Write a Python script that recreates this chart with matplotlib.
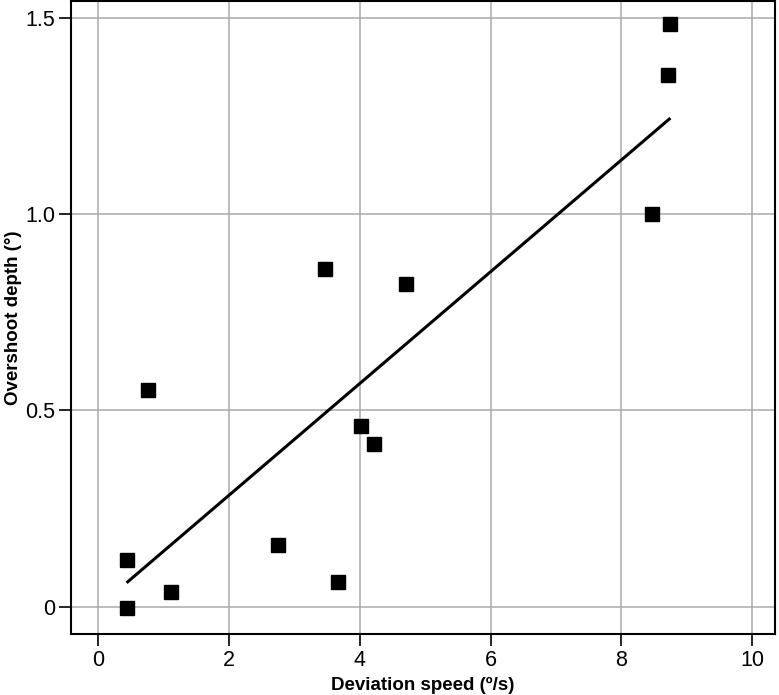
import numpy as np
import matplotlib
matplotlib.use("Agg")
import matplotlib.pyplot as plt

plt.rcParams['font.family'] = ['Liberation Sans', 'DejaVu Sans']

# deviation speed (deg/s) vs overshoot depth (deg)
speed = np.array([0.43, 0.43, 0.76, 1.11, 2.74, 3.47, 3.66, 4.02, 4.22, 4.70, 8.47, 8.72, 8.75])
depth = np.array([0.119, -0.003, 0.552, 0.037, 0.157, 0.861, 0.063, 0.461, 0.414, 0.822, 1.0, 1.355, 1.485])

xticks = [0, 2, 4, 6, 8, 10]
yticks = [0, 0.5, 1.0, 1.5]
yticklabels = ["0", "0.5", "1.0", "1.5"]

fig = plt.figure(figsize=(7.79, 6.95), dpi=100)
ax = fig.add_axes([71 / 779, 61 / 695, 704 / 779, 633 / 695])

# least squares fit line over the data range
slope, icpt = np.polyfit(speed, depth, 1)
xl = np.array([speed.min(), speed.max()])
ax.plot(xl, slope * xl + icpt, color="black", lw=2.2, solid_capstyle="butt", zorder=3)

ax.plot(speed, depth, "s", color="black", markersize=10, zorder=4)

ax.set_xlim(-0.42, 10.35)
ax.set_ylim(-0.07, 1.544)
ax.set_xticks(xticks)
ax.set_yticks(yticks)
ax.set_yticklabels(yticklabels)
ax.grid(True, color="#aaaaaa", lw=1.1)
ax.set_axisbelow(True)
for s in ax.spines.values():
    s.set_linewidth(1.5)
ax.tick_params(direction="out", length=8.5, width=1.2, labelsize=15.5, pad=3)

ax.set_xlabel("Deviation speed (º/s)", fontsize=13.5, fontweight="bold", labelpad=4)
ax.set_ylabel("Overshoot depth (°)", fontsize=13.5, fontweight="bold", labelpad=2)

fig.savefig("out.png", dpi=100)
